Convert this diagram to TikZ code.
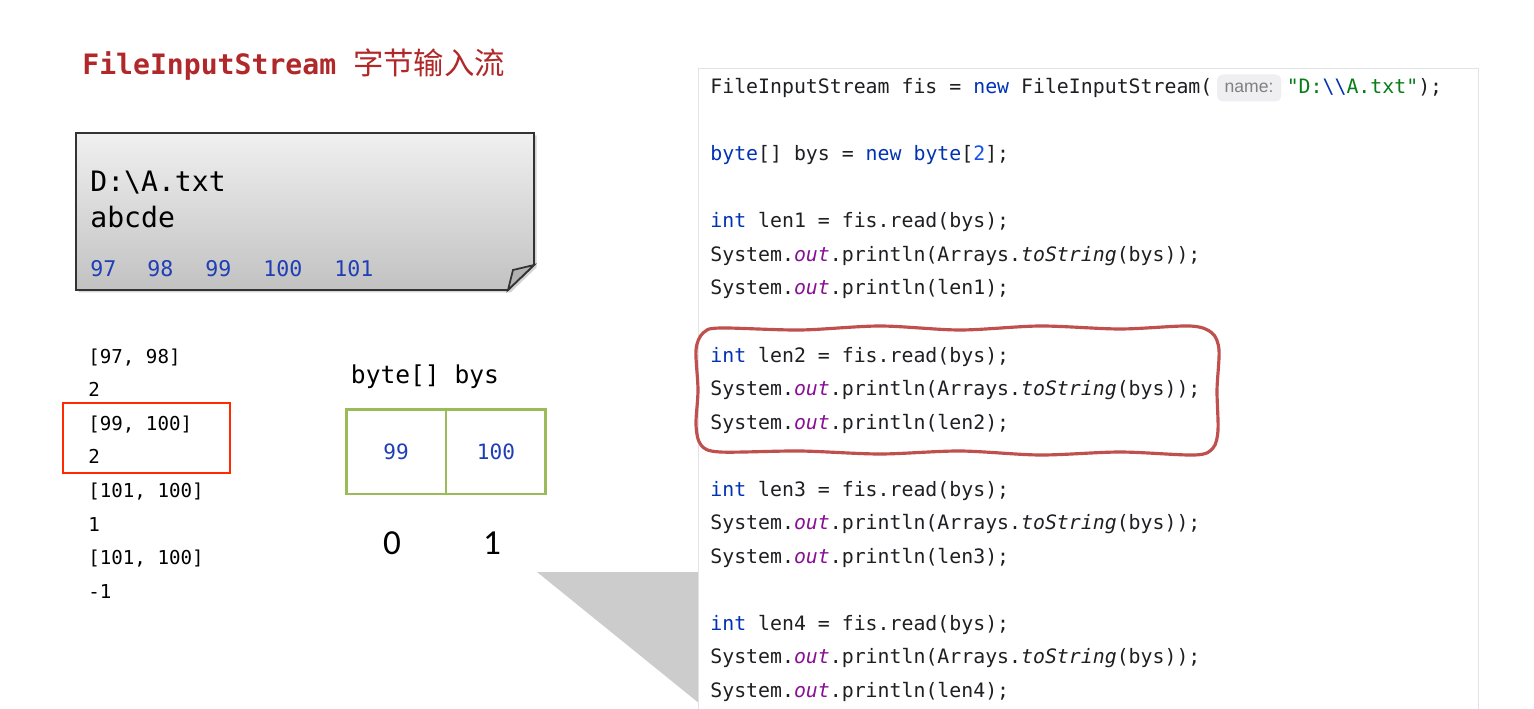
\documentclass[tikz,border=0pt]{standalone}
\usepackage{fontspec}
\setmainfont{Carlito}
\setmonofont{DejaVu Sans Mono}
\newfontfamily\cjk{Noto Sans CJK SC}
\newfontfamily\hintfont{Liberation Sans}
\usepackage{xcolor}
\usepackage{tikz}
\usetikzlibrary{positioning, calc, shadows}
\definecolor{title-red}{HTML}{B0282A}
\definecolor{num-blue}{HTML}{1F3FB5}
\definecolor{kw-blue}{HTML}{0033B3}
\definecolor{lit-blue}{HTML}{1750EB}
\definecolor{str-green}{HTML}{067D17}
\definecolor{fld-purple}{HTML}{871094}
\definecolor{code-black}{HTML}{1E1F22}
\definecolor{hint-gray}{HTML}{EFEFF1}
\definecolor{panel-line}{HTML}{E2E3E6}
\definecolor{cell-green}{HTML}{9BBB59}
\definecolor{mark-red}{HTML}{FF2A00}
\definecolor{loop-red}{HTML}{C0504D}
\definecolor{shade-gray}{HTML}{CCCCCC}
\newcommand{\kw}[1]{\textcolor{kw-blue}{#1}}
\newcommand{\fld}[1]{\textcolor{fld-purple}{\itshape #1}}

\begin{document}
\begin{tikzpicture}[
    x=0.02cm, y=-0.02cm,
    codeline/.style={anchor=base west, inner sep=0pt, text=code-black, font=\fontsize{11.3}{13}\selectfont\ttfamily},
    outline/.style={anchor=base west, inner sep=0pt, font=\fontsize{10.9}{13}\selectfont\ttfamily},
    notetext/.style={anchor=base west, inner sep=0pt, font=\fontsize{16}{19}\selectfont\ttfamily},
    notenum/.style={anchor=base west, inner sep=0pt, text=num-blue, font=\fontsize{12.3}{15}\selectfont\ttfamily},
    cell/.style={draw=cell-green, line width=1.7pt, outer sep=0pt, minimum width=2cm, minimum height=1.7cm, text=num-blue, font=\fontsize{12}{14}\selectfont\ttfamily},
    index/.style={font=\fontsize{20}{23}\selectfont},
    hintbox/.style={fill=hint-gray, rounded corners=3pt, text=gray, minimum width=1.28cm, minimum height=0.54cm, inner sep=1pt, font=\fontsize{10}{12}\selectfont\hintfont}
]
    \clip (0,0) rectangle (1534,709);

    % title
    \node (title) [anchor=base west, inner sep=0pt, text=title-red] at (82,75)
        {\fontsize{16}{19}\selectfont\ttfamily\bfseries FileInputStream\ {\mdseries\cjk\fontsize{17.3}{20}\selectfont 字节输入流}};

    % file note
    \path[drop shadow={opacity=0.35, shadow xshift=0.05cm, shadow yshift=-0.05cm},
          top color=gray!12, bottom color=gray!48, draw=black!80, line width=1pt]
        (76,133) -- (534,133) -- (534,265) -- (508,290) -- (76,290) -- cycle;
    \draw[fill=gray!60, draw=black!80, line width=1pt] (534,265) -- (513,270) -- (508,290) -- cycle;
    \node (fname) [notetext] at (90,192) {D:\textbackslash A.txt};
    \node (fdata) [notetext] at (90,228) {abcde};
    \foreach \v/\x in {97/90, 98/147, 99/205, 100/263, 101/334}
        \node (b\v) [notenum] at (\x,277) {\v};

    % console output
    \foreach \t [count=\k] in {{[97, 98]}, 2, {[99, 100]}, 2, {[101, 100]}, 1, {[101, 100]}, -1}
        \node (out\k) [outline] at (88,329.4+33.6*\k) {\t};
    \draw[mark-red, line width=1.7pt] (63,403) rectangle (230,473);

    % byte array
    \node (arrname) [font=\fontsize{14}{17}\selectfont\ttfamily] at (425,377) {byte[] bys};
    \node (cell0) [cell] at (396,451.5) {99};
    \node (cell1) [cell, right=0pt of cell0] {100};
    \node (idx0) [index] at (392,543) {0};
    \node (idx1) [index] at (492,543) {1};

    % grey wedge behind the panel
    \fill[shade-gray] (537,572) -- (700,572) -- (700,704) -- cycle;

    % code panel
    \draw[panel-line, fill=white] (698,68) rectangle (1478,730);
    \node (l1) [codeline] at (710,94) {FileInputStream fis = \kw{new} FileInputStream(};
    \node (hint) [hintbox, anchor=west] at ($(l1.base east)+(4,-6)$) {name:};
    \node (l1end) [codeline] at ($(hint.east |- l1.base)+(5,0)$)
        {\textcolor{str-green}{"D:\kw{\textbackslash\textbackslash}A.txt"});};
    \node (l2) [codeline] at (710,161) {\kw{byte}[] bys = \kw{new} \kw{byte}[\textcolor{lit-blue}{2}];};
    \foreach \n/\y in {1/228, 2/362, 3/496, 4/630} {
        \node (read\n) [codeline] at (710,\y) {\kw{int} len\n{} = fis.read(bys);};
        \node (arr\n) [codeline] at (710,\y+33.5) {System.\fld{out}.println(Arrays.{\itshape toString}(bys));};
        \node (len\n) [codeline] at (710,\y+67) {System.\fld{out}.println(len\n);};
    }

    % hand drawn mark round the second read
    \draw[loop-red, line width=1.8pt] plot[smooth cycle] coordinates {
        (720,328) (800,330) (880,326) (960,330) (1040,326) (1120,329) (1190,326)
        (1212,333) (1219,350) (1217,390) (1218,430) (1213,448) (1195,455)
        (1120,452) (1040,455) (960,451) (880,454) (800,451) (720,452)
        (701,445) (696,425) (698,390) (696,350) (703,333)};
\end{tikzpicture}
\end{document}
